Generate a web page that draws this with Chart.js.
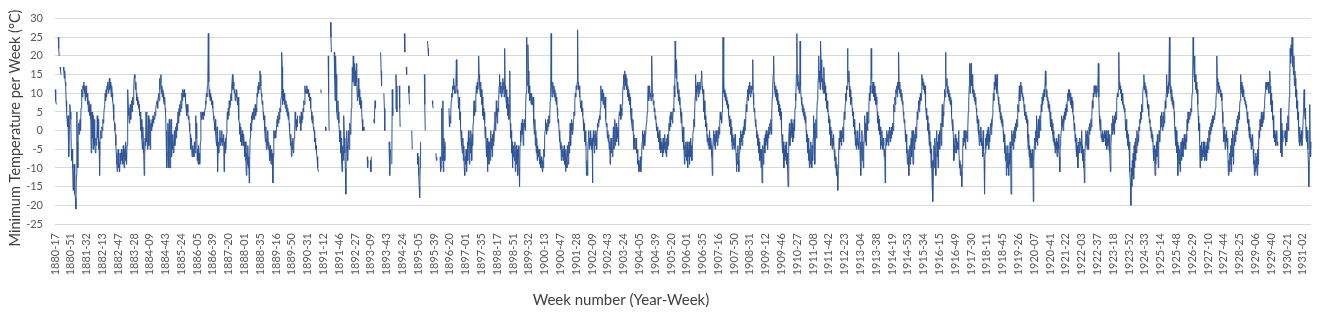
<!DOCTYPE html>
<html>
<head>
<meta charset="utf-8">
<script src="https://cdn.jsdelivr.net/npm/chart.js@4/dist/chart.umd.min.js"></script>
<style>
html, body { margin: 0; padding: 0; background: #fff; }
</style>
</head>
<body>
<canvas id="myChart" width="1325" height="315"></canvas>
<script>
// weekly minimum temperature, one row per year (1880 starts at week 17, 1931 ends at week 20)
const t1880s = [
  [11,10,8,7,null,null,null,25,22,20,null,17,16,15,null,null,null,null,17,16,14,16,13,12,8,5,3,1,4,0,-7,2,7,5,3,-5,-8],
  [-5,-10,-16,-12,-9,-15,-17,-18,-21,-12,5,-3,-10,0,2,-1,1,3,0,6,10,11,9,12,11,13,10,12,8,11,12,9,10,7,9,5,8,6,4,7,3,-6,5,-2,5,-5,4,-3,3,-4,-6,-2,-4],
  [-3,4,-2,3,-5,-3,-12,-2,0,-1,-2,1,0,3,2,4,6,7,10,8,11,9,12,11,13,10,12,14,11,13,12,9,12,10,8,7,5,3,2,0,-1,-4,-6,-9,-11,-8,-5,-10,-9,-11,-6,-9,-7],
  [-5,-8,-6,-9,-4,-7,-10,-5,-8,-3,-6,-9,-4,-2,11,6,4,2,5,7,3,6,8,5,9,7,10,12,15,14,11,13,10,8,9,7,8,6,7,4,5,2,0,3,-2,-5,1,-3,-6,-12,-8,-2,-4],
  [5,-3,2,-5,0,4,-4,-1,3,-5,1,2,0,3,1,4,2,4,3,5,4,6,7,7,8,6,9,10,8,14,11,13,15,10,12,9,11,10,8,7,9,6,5,0,-3,-10,-6,2,-1,-10,3,-4,-10],
  [-2,3,-7,-3,-5,-1,-6,-3,0,-4,-2,1,-2,2,0,3,5,2,6,4,7,5,8,6,10,8,11,9,10,11,9,10,8,6,7,4,7,5,3,4,2,0,-1,-5,-2,-3,-7,-4,-6,-5,-7,-3,-5],
  [-6,4,-2,2,-8,-5,-9,-4,-8,-6,-9,-3,5,4,3,5,4,3,5,4,5,6,8,7,10,9,12,14,26,13,9,11,8,10,9,7,8,6,7,4,3,2,0,3,-1,-3,-4,1,-11,-5,-3,-6,-2],
  [0,-4,-2,-3,0,-4,-2,-3,-1,-11,-3,-6,-2,-5,-1,2,5,3,6,4,8,6,7,9,10,8,12,15,11,13,12,10,11,8,10,9,11,8,7,9,6,3,2,-1,1,-3,-1,-4,0,-2,-4,-1,-3],
  [-4,-7,-3,-8,-12,-6,-9,-4,-10,-7,-14,-8,-2,2,0,4,2,5,3,4,6,3,5,7,4,6,5,10,9,12,10,13,11,16,15,12,10,9,7,8,5,3,4,2,0,-3,1,-5,-2,-4,0,-5,-3],
  [-5,-8,-4,-7,-9,-5,-8,-6,-14,-7,0,-2,-1,0,-2,0,1,3,1,4,2,5,3,6,5,8,9,21,17,7,11,8,10,7,9,6,8,5,7,4,6,3,5,2,0,-2,-4,-1,-7,-3,-5,-2,-6]
];
const t1890s = [
  [-4,-2,0,5,2,0,3,1,4,null,null,null,2,4,3,0,5,2,4,3,6,5,8,7,12,10,11,10,12,11,10,11,9,10,8,9,8,6,5,3,2,4,1,0,0,-3,-2,-5,-4,-6,-7,-9,-10],
  [-11,null,null,null,null,11,10,null,null,null,null,null,null,null,null,1,0,null,null,null,null,20,10,0,null,null,29,25,21,null,null,null,null,null,21,14,8,20,15,8,5,3,8,5,2,0,-3,0,-6,-2,-8,-11,-5],
  [-4,-8,4,-2,-6,-10,-17,-5,0,-4,-8,-3,0,-5,-2,2,-1,2,6,10,17,13,20,15,12,18,16,12,14,18,13,8,10,14,9,11,7,9,6,8,6,3,2,0,1,0,null,null,null,null,null,null],
  [-7,-10,-8,null,null,null,null,-8,-11,-7,null,null,null,null,3,2,5,8,6,null,null,null,null,null,null,null,null,null,null,21,16,12,null,null,null,null,10,6,0,null,null,null,null,null,null,null,null,-3,-8,-12,-5,null,null],
  [-9,11,4,null,null,null,null,null,6,15,12,5,null,null,null,null,12,6,1,null,null,null,null,null,null,null,null,26,21,null,null,17,15,null,null,null,12,10,7,null,null,null,null,0,-5,null,null,null,null,null,null,null,null],
  [null,null,-6,-9,-7,-12,-15,-18,-10,-3,null,null,null,null,null,null,null,15,7,0,null,null,null,null,24,22,20,null,null,null,null,null,null,null,8,7,6,null,null,null,null,null,-6,-8,-7,null,null,null,null,null,null,-7,-11],
  [-10,-5,6,-8,8,-11,-2,-4,-8,-3,null,null,null,null,null,null,null,6,1,4,2,5,8,10,9,12,11,14,12,10,11,10,13,19,12,10,11,8,6,9,3,5,1,-2,0,-4,-6,-2,-8,-4,-10,-12,-7],
  [-9,-5,-11,-6,-3,-8,0,-4,-9,-2,-6,0,-3,-8,-1,-4,2,5,8,4,7,5,9,12,10,13,11,14,20,15,12,10,13,9,11,7,9,4,6,3,5,2,-2,1,-4,-7,-2,-11,-6,-3,-9,-5],
  [-3,-8,0,-5,-2,-7,-1,-4,0,-3,2,5,0,3,8,4,2,6,5,8,12,15,10,13,11,9,12,10,14,11,13,9,22,12,10,8,11,6,9,4,7,3,5,16,2,-2,0,-6,-3,-10,-5,-7,-4],
  [-8,-3,-11,-6,-4,-9,-5,-12,-7,-4,-10,-15,-4,0,-3,2,-1,3,0,-4,2,1,3,0,5,10,25,15,12,23,16,10,12,8,10,9,7,10,8,7,9,4,2,-1,3,-4,0,-6,-2,-8,-4,-7,-5]
];
const t1900s = [
  [-6,-9,-5,-8,-10,-7,-9,-11,-8,-10,-5,-7,-2,0,3,1,-1,2,0,3,1,4,2,3,8,10,26,12,9,13,11,10,12,9,11,8,10,7,9,6,4,2,3,0,-3,-1,-5,-3,-8,-4,-7,-5,-8],
  [-6,-4,-9,-6,-11,-5,-8,-10,-4,-7,-9,-3,-6,-2,2,-4,0,3,-1,2,0,3,5,4,8,10,9,12,11,13,27,13,11,12,9,10,7,6,8,5,6,4,3,0,2,-3,-1,-4,0,-12,-8,-12,-5],
  [-3,0,-5,-2,-4,0,-3,-5,-2,-14,-4,0,-3,-6,-1,-4,0,-2,-5,0,2,1,3,2,4,3,6,12,10,8,11,9,7,10,8,6,9,7,3,1,2,-2,0,-3,-1,-5,-3,-9,-4,-2,-6,-4,-7],
  [-3,1,-5,-1,3,-4,-1,2,-3,0,-2,1,-4,3,5,4,7,3,6,4,7,10,12,15,11,16,13,15,12,14,11,12,9,11,8,10,7,9,5,3,6,2,0,3,-1,-5,-2,-3,-5,-4,-2,-6,-5],
  [-6,-9,-8,-11,-9,-10,-7,-11,-8,-5,-3,0,-5,-1,-3,0,-4,-1,0,2,3,5,9,12,8,10,12,9,10,8,11,20,10,9,7,8,5,6,3,4,2,0,1,-2,0,-1,-3,0,-5,-2,-6,-3,-5],
  [-4,-7,-2,-6,-3,-5,-1,-6,-3,-7,-2,-5,-1,-4,0,2,0,4,1,5,3,5,2,4,6,5,12,9,24,16,14,19,12,10,13,8,11,7,9,6,4,2,5,0,-3,1,-5,-2,-9,-4,-7,-3,-6],
  [-8,-3,-10,-5,-7,-3,-9,-5,-2,-7,-4,-8,-3,-1,0,3,1,5,9,15,8,12,10,13,11,9,12,10,13,11,12,14,16,12,10,11,7,5,8,3,4,1,2,0,-3,-1,-4,-2,-5,0,-3,-5,-2],
  [-4,-7,-12,-5,-2,0,-4,-1,-5,-2,0,-3,-1,-4,0,-2,1,-1,2,5,3,4,2,5,6,25,10,12,9,11,8,10,9,7,8,6,7,4,3,4,1,3,-1,1,-3,-5,-1,-4,-2,-5,-3,-1,-4],
  [-6,-11,-7,-9,-4,-8,-11,-6,-2,-5,0,-3,-1,-4,0,-2,1,-1,3,0,2,4,7,5,9,11,8,12,10,13,11,9,12,10,12,11,19,10,7,5,6,3,1,2,0,-2,-1,-4,-2,-6,-3,-8,-5],
  [-7,-10,-5,-14,-8,-4,-9,-5,-2,-6,-1,-4,0,-3,-1,-5,0,-2,1,-1,2,0,3,-1,5,9,12,15,20,13,11,10,12,9,11,8,10,7,8,5,7,4,6,3,5,0,-3,-1,-6,-3,-10,-5,-8]
];
const t1910s = [
  [-4,-7,-3,-9,-6,-10,-15,-6,-2,2,-4,0,-2,3,-1,2,-3,1,-2,3,0,6,10,8,15,26,12,15,11,13,10,12,24,12,9,7,8,5,7,4,6,3,5,2,4,0,-3,-1,-6,-2,-8,-4,-10],
  [-5,-9,-3,-7,-10,-4,-8,-2,4,-3,2,-9,0,3,-2,5,8,10,14,20,13,16,11,24,19,13,16,11,14,10,17,13,10,12,8,10,6,8,5,6,4,2,3,-1,1,-4,-2,0,-5,-2,-4,-1,-5],
  [-8,-5,-10,-7,-12,-9,-11,-16,-10,-6,-2,-5,0,-3,-1,-4,0,-2,1,-3,2,5,3,7,10,8,12,11,22,15,13,16,12,9,11,7,9,8,6,4,5,1,3,-1,2,-4,0,-5,-2,-4,0,-3,-5],
  [-2,2,-6,-3,-12,-4,0,-8,-3,-10,-5,-1,4,-3,2,-4,1,5,0,3,2,6,10,8,12,10,22,14,12,10,13,11,9,12,8,10,7,9,7,5,2,4,0,3,-1,1,-5,-2,-4,0,-3,-5,-2],
  [-4,-7,-5,-14,-6,-2,-4,0,-3,-1,-4,0,-2,1,-3,0,-2,1,-1,2,0,3,7,5,9,7,11,10,12,9,13,11,21,12,10,13,9,11,8,10,7,8,5,4,2,3,0,-3,-1,-6,-4,-9,-5],
  [-7,-12,-8,-4,-9,-5,-2,-7,0,-4,-9,-2,0,-5,-1,-3,1,-2,0,5,3,6,8,5,9,7,10,8,10,15,12,14,11,13,12,10,12,7,5,6,3,4,0,2,-1,-4,0,-6,-3,-10,-5,-14,-8],
  [-19,-8,-4,-10,-2,-6,-12,-3,0,-7,-3,-10,-1,-4,0,-5,-1,2,-4,3,7,1,5,4,8,11,9,21,14,12,14,10,12,9,11,8,10,7,9,8,4,2,0,3,-2,-8,-4,-6,-1,-3,-6,-2,-5],
  [-3,-5,0,-4,-10,-8,-12,-9,-11,-15,-10,-5,-2,-4,0,-3,-1,-5,0,-2,0,-3,1,5,8,12,18,10,14,18,12,15,10,13,9,11,8,10,7,9,6,5,2,4,0,3,-1,-4,0,-3,1,-2,-4],
  [-3,-7,0,-5,-8,-17,-6,-2,-5,-1,-4,0,-3,1,-5,-1,-3,0,2,-1,3,1,4,6,10,8,13,11,15,12,14,10,15,12,9,7,8,5,7,3,5,2,4,1,3,0,-3,-1,-6,-2,-8,-4,-12],
  [-6,-10,-4,-8,-12,-6,-9,-3,-7,-17,-5,0,-4,-1,-5,0,-3,1,-2,2,0,3,1,5,7,5,9,12,8,11,13,10,12,9,10,8,9,6,7,4,5,3,4,2,3,-2,-5,-1,-7,-4,-10,-5,-8]
];
const t1920s = [
  [-6,-10,-5,-8,-19,-9,-4,-2,-5,0,-3,4,-1,-4,0,3,-2,1,4,0,3,7,5,9,7,10,8,11,9,10,16,12,9,11,8,9,6,8,5,7,3,5,1,3,0,2,-1,-3,0,-4,-2,-6,-3],
  [-5,-2,-7,-3,-6,-1,-5,-7,-11,-4,-2,0,4,1,3,0,4,2,5,3,6,4,7,5,8,10,8,11,9,11,8,10,7,9,6,8,5,4,3,0,2,-3,-1,-5,-2,-7,-4,-10,-5,-3,-6,-2,-4],
  [-3,-6,0,-4,-8,-5,-10,-6,-14,-7,-3,0,-4,-1,-5,0,-2,-5,1,-1,2,0,3,1,4,8,6,10,9,12,10,12,11,9,12,10,11,13,18,9,4,2,0,3,-2,-1,-3,0,-2,-1,-3,0,-2],
  [-1,-4,0,-5,-2,-4,0,-3,-5,-1,-6,-11,-4,-1,2,-1,4,0,3,-1,4,2,5,3,6,8,10,9,11,21,13,11,12,10,11,8,10,7,9,6,7,5,6,2,0,3,-2,0,-4,-1,-5,-3,-7],
  [-11,-14,-20,-10,-15,-8,-12,-6,-13,-4,-10,-3,-8,-2,-6,0,-4,-1,-3,1,0,3,2,5,3,7,5,8,10,12,15,11,13,10,12,9,11,8,6,7,4,5,2,3,0,1,-2,0,-3,-1,-5,-8,-4],
  [-6,-12,-5,-9,-3,-7,-1,-5,-10,-4,0,-3,0,4,1,5,2,0,4,1,5,2,5,8,6,10,15,9,12,10,13,11,25,12,12,10,8,11,7,9,6,8,5,2,-1,1,-4,0,-6,-3,-12,-7,-4],
  [-9,-5,-11,-7,-3,-8,-4,-2,-7,-3,-5,-1,-4,-2,-5,-1,-3,3,0,5,2,4,3,5,4,6,5,8,10,14,25,18,15,20,13,15,11,13,10,11,7,4,0,2,-3,-10,-4,-6,-3,-8,-5,-7,-3],
  [-6,-3,-8,-5,-7,-4,-8,-3,-6,-2,-5,0,-3,1,-1,2,0,3,1,4,2,4,3,5,4,6,8,10,20,14,12,10,13,11,12,10,11,9,10,8,5,2,0,-3,1,-2,-5,-1,-3,0,-4,-2,-5],
  [-12,-8,-11,-6,-9,-4,-11,-2,-7,0,-5,-9,-1,-4,0,-3,1,-1,3,0,4,2,5,3,6,8,15,11,13,10,12,9,11,10,8,9,7,8,6,7,4,5,2,3,0,-2,1,-3,-1,-5,-2,-4,-1],
  [-5,-9,-6,-12,-8,-11,-6,-10,-7,-12,-5,-9,-4,0,-2,3,0,2,5,1,4,2,5,3,6,8,10,12,13,12,11,13,12,13,10,13,16,12,7,10,5,8,3,4,0,-2,0,-3,-1,-4,-2,0,-3]
];
const t1930s = [
  [-4,null,null,null,null,null,6,-6,2,-7,0,-3,null,null,null,-2,0,-4,-1,2,-3,1,4,0,5,9,12,22,18,23,20,25,17,22,15,20,12,16,14,9,11,6,8,3,5,0,-3,1,-4,-1,-3,0,-4],
  [-2,0,4,8,11,5,3,6,-2,1,-3,0,-5,-8,-15,-6,7,-3,-7,-3]
];

const firstYear = 1880, firstWeek = 17, lastYear = 1931, lastWeek = 20;
const skippedWeeks = ['1892-53', '1897-53'];
const tickLabels = ['1880-17','1880-51','1881-32','1882-13','1882-47','1883-28','1884-09','1884-43','1885-24','1886-05',
  '1886-39','1887-20','1888-01','1888-35','1889-16','1889-50','1890-31','1891-12','1891-46','1892-27',
  '1893-09','1893-43','1894-24','1895-05','1895-39','1896-20','1897-01','1897-35','1898-17','1898-51',
  '1899-32','1900-13','1900-47','1901-28','1902-09','1902-43','1903-24','1904-05','1904-39','1905-20',
  '1906-01','1906-35','1907-16','1907-50','1908-31','1909-12','1909-46','1910-27','1911-08','1911-42',
  '1912-23','1913-04','1913-38','1914-19','1914-53','1915-34','1916-15','1916-49','1917-30','1918-11',
  '1918-45','1919-26','1920-07','1920-41','1921-22','1922-03','1922-37','1923-18','1923-52','1924-33',
  '1925-14','1925-48','1926-29','1927-10','1927-44','1928-25','1929-06','1929-40','1930-21','1931-02'];
const tickEvery = 34;
const yTitle = 'Minimum Temperature per Week (°C)';
const xTitle = 'Week number (Year-Week)';

const yearRows = [].concat(t1880s, t1890s, t1900s, t1910s, t1920s, t1930s);
const weeks = [];
const temps = [];
for (let y = firstYear; y <= lastYear; y++) {
  const row = yearRows[y - firstYear];
  const w0 = y === firstYear ? firstWeek : 1;
  const w1 = y === lastYear ? lastWeek : 53;
  let k = 0;
  for (let w = w0; w <= w1; w++) {
    const lab = y + '-' + String(w).padStart(2, '0');
    if (skippedWeeks.includes(lab)) continue;
    weeks.push(lab);
    const v = row[k++];
    temps.push(v === undefined ? null : v);
  }
}

// axis titles sit off-centre in the original, so they are drawn by hand
const axisTitles = {
  id: 'axisTitles',
  afterDraw(chart) {
    const ctx = chart.ctx;
    ctx.save();
    ctx.fillStyle = '#404040';
    ctx.textAlign = 'center';
    ctx.textBaseline = 'middle';
    ctx.font = '15px Lato';
    ctx.fillText(xTitle, 621, 300);
    ctx.font = '14.5px Lato';
    ctx.translate(15, 128);
    ctx.rotate(-Math.PI / 2);
    ctx.fillText(yTitle, 0, 0);
    ctx.restore();
  }
};

Chart.defaults.font.family = 'Lato';
Chart.defaults.font.size = 11;
Chart.defaults.color = '#595959';

const myChart = new Chart(document.getElementById('myChart'), {
  type: 'line',
  data: {
    labels: weeks,
    datasets: [{
      label: 'Minimum temperature',
      data: temps,
      borderColor: '#2F5597',
      borderWidth: 1,
      pointRadius: 0,
      tension: 0,
      spanGaps: false,
      fill: false
    }]
  },
  options: {
    responsive: false,
    animation: false,
    events: [],
    layout: { padding: { top: 10, right: 7, left: 0, bottom: 0 } },
    plugins: { legend: { display: false }, tooltip: { enabled: false } },
    scales: {
      x: {
        type: 'category',
        grid: { display: false, drawTicks: false },
        border: { display: false },
        afterBuildTicks: s => { s.ticks = s.ticks.filter(t => t.value % tickEvery === 0); },
        afterFit: s => { s.height = 91; },
        ticks: {
          autoSkip: false,
          minRotation: 90,
          maxRotation: 90,
          padding: 9,
          callback: v => tickLabels[v / tickEvery]
        }
      },
      y: {
        min: -25,
        max: 30,
        grid: { color: '#D9D9D9', lineWidth: 1, drawTicks: false },
        border: { display: false },
        afterFit: s => { s.width = 55; },
        ticks: { stepSize: 5, padding: 12 }
      }
    }
  },
  plugins: [axisTitles]
});
</script>
</body>
</html>
